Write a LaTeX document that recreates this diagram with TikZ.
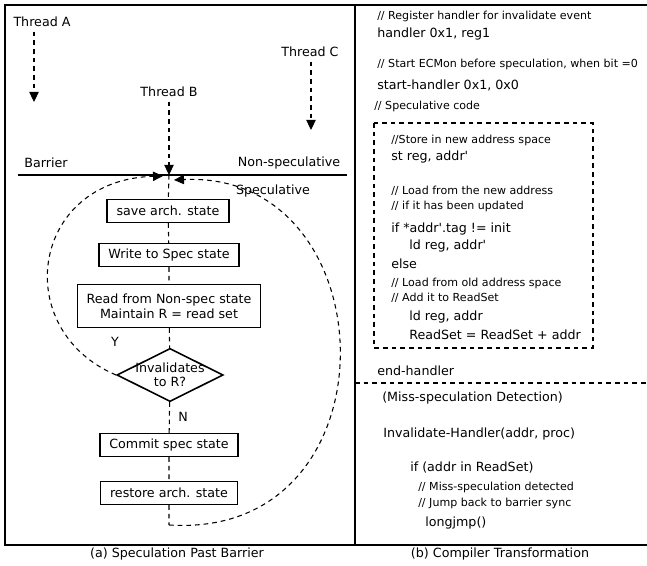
\documentclass[tikz,border=0pt]{standalone}
\usepackage{fontspec}
\setmainfont{DejaVu Sans}
\usetikzlibrary{shapes.geometric,arrows.meta}
\tikzset{
  stepbox/.style={draw, line width=1.2pt, minimum height=17pt, inner xsep=7pt, inner ysep=2pt, align=center},
  decide/.style={draw, diamond, aspect=2, line width=1.2pt, inner sep=-1.3pt, align=center, font=\fontsize{9.5}{10.5}\selectfont},
  flow/.style={line width=0.8pt, dash pattern=on 3.5pt off 3pt},
  arr/.style={flow, -{Triangle[length=7.5pt,width=7pt]}},
  cmt/.style={anchor=west, inner sep=0pt, font=\fontsize{8.3}{10}\selectfont},
  code/.style={anchor=west, inner sep=0pt},
}
\newcommand\tick{\textquotesingle}
\begin{document}
\begin{tikzpicture}[x=0.75pt,y=-0.75pt,font=\fontsize{9.5}{11.5}\selectfont]
\useasboundingbox (0,0) rectangle (647,566);
% frames
\draw[line width=1.2pt] (5,5) rectangle (355,545);
\draw[line width=1.2pt] (355,5) -- (647,5) (355,545) -- (647,545);
\node (capa) at (177,554) {(a) Speculation Past Barrier};
\node (capb) at (500,554) {(b) Compiler Transformation};

% threads and barrier
\node (ta) at (42,22) {Thread A};
\node (tb) at (169,92) {Thread B};
\node (tc) at (310,52) {Thread C};
\coordinate (ea) at (34,102);
\coordinate (ec) at (311,130);
\coordinate (bl) at (18,175);
\coordinate (br) at (347,175);
\coordinate (bc) at (169,175);
\coordinate (sl) at (163,176);
\coordinate (sr) at (174,180);
\coordinate (fin) at (169,525);
\draw[arr] (ta.south -| ea) -- (ea);
\draw[arr] (tc.south -| ec) -- (ec);
\draw[arr] (tb) -- (bc);
\draw[line width=1.1pt] (bl) -- (br);
\node (bar) at (46,163) {Barrier};
\node (nsp) at (289,163) {Non-speculative};
\node (spc) at (273,191) {Speculative};

% speculative steps
\node[stepbox] (save) at (168,211) {save arch. state};
\node[stepbox] (write) at (169,255) {Write to Spec state};
\node[stepbox, minimum height=32pt] (read) at (169,306) {Read from Non-spec state\\Maintain R = read set};
\node[decide] (inv) at (170,375) {Invalidates\\to R?};
\node[stepbox] (commit) at (169,445) {Commit spec state};
\node[stepbox] (restore) at (169,493) {restore arch. state};
\node (y) at (115,342) {Y};
\node (n) at (183,417) {N};
\draw[flow] (bc) -- (save) -- (write) -- (read) -- (inv) -- (commit) -- (restore) -- (fin);
\draw[arr] (inv.west) .. controls (10,330) and (30,180) .. (sl);
\draw[arr] (fin) .. controls (400,540) and (390,170) .. (sr);

% compiler transformation
\node[cmt] (c1) at (377,16) {// Register handler for invalidate event};
\node[code] (c2) at (377,34) {handler 0x1, reg1};
\node[cmt] (c3) at (377,64) {// Start ECMon before speculation, when bit =0};
\node[code] (c4) at (377,85) {start-handler 0x1, 0x0};
\node[cmt] (c5) at (374,106) {// Speculative code};
\draw[flow] (374,123) rectangle (593,348);
\node[cmt] (c6) at (391,140) {//Store in new address space};
\node[code] (c7) at (391,157) {st reg, addr\tick};
\node[cmt] (c8) at (391,191) {// Load from the new address};
\node[cmt] (c9) at (391,206) {// if it has been updated};
\node[code] (c10) at (391,229) {if *addr\tick.tag != init};
\node[code] (c11) at (409,246) {ld reg, addr\tick};
\node[code] (c12) at (391,264) {else};
\node[cmt] (c13) at (391,283) {// Load from old address space};
\node[cmt] (c14) at (391,298) {// Add it to ReadSet};
\node[code] (c15) at (409,317) {ld reg, addr};
\node[code] (c16) at (409,335) {ReadSet = ReadSet + addr};
\node[code] (c17) at (377,371) {end-handler};
\coordinate (dl) at (355,383);
\coordinate (dr) at (647,383);
\draw[flow] (dl) -- (dr);
\node[code] (c18) at (382,398) {(Miss-speculation Detection)};
\node[code] (c19) at (383,434) {Invalidate-Handler(addr, proc)};
\node[code] (c20) at (410,468) {if (addr in ReadSet)};
\node[cmt] (c21) at (418,487) {// Miss-speculation detected};
\node[cmt] (c22) at (418,503) {// Jump back to barrier sync};
\node[code] (c23) at (425,523) {longjmp()};
\end{tikzpicture}
\end{document}
